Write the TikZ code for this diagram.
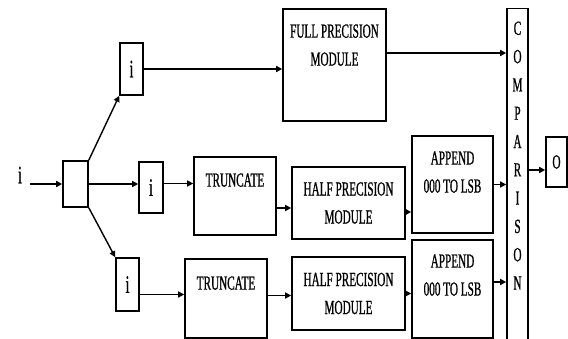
\documentclass[tikz,border=0pt]{standalone}
\usepackage{fontspec}
\setmainfont{Liberation Serif}[FakeStretch=0.56,FakeBold=0.8]
\usetikzlibrary{arrows.meta,positioning}
\tikzset{
  blk/.style={draw=black, line width=1.6pt, inner sep=0pt},
  lbl/.style={font=\fontsize{20}{28}\selectfont, align=center, inner sep=0pt, text=black},
  bit/.style={font=\fontsize{25}{26}\selectfont, inner sep=0pt, text=black},
  arr/.style={-{Triangle[length=6pt,width=6pt]}, line width=1.4pt},
}
\begin{document}
\begin{tikzpicture}[x=1pt,y=-1pt]
  \useasboundingbox (0,0) rectangle (568,339);
  % input and splitter
  \node[bit] (inp) at (20,175) {i};
  \node[blk, minimum width=25pt, minimum height=46pt] (split) at (75.5,184) {};
  \node[blk, bit, minimum width=23pt, minimum height=52pt] (itop) at (131.5,69) {i};
  \node[blk, bit, minimum width=24pt, minimum height=51pt] (imid) at (151,187.5) {i};
  \node[blk, bit, minimum width=23pt, minimum height=53pt] (ibot) at (127.5,284.5) {i};
  % modules
  \node[blk, minimum width=103pt, minimum height=112pt] (full) at (334.5,65) {};
  \node[lbl, below=16pt of full.north] (fullt) {FULL PRECISION\\MODULE};
  \node[blk, minimum width=82pt, minimum height=78pt] (trunc1) at (235,196) {};
  \node[lbl, below=17pt of trunc1.north] (trunc1t) {TRUNCATE};
  \node[blk, minimum width=82pt, minimum height=79pt] (trunc2) at (226,298.5) {};
  \node[lbl, below=18pt of trunc2.north] (trunc2t) {TRUNCATE};
  \node[blk, lbl, minimum width=113pt, minimum height=72pt] (half1) at (348.5,203) {HALF PRECISION\\MODULE};
  \node[blk, lbl, minimum width=113pt, minimum height=73pt] (half2) at (348.5,293.5) {HALF PRECISION\\MODULE};
  \node[blk, minimum width=81pt, minimum height=97pt] (app1) at (452.5,184.5) {};
  \node[lbl, below=16pt of app1.north] (app1t) {APPEND\\000 TO LSB};
  \node[blk, minimum width=81pt, minimum height=98pt] (app2) at (452.5,289) {};
  \node[lbl, below=15pt of app2.north] (app2t) {APPEND\\000 TO LSB};
  % comparison and output
  \node[blk, minimum width=21pt, minimum height=333pt] (comp) at (517.5,175) {};
  \foreach \c [count=\k] in {C,O,M,P,A,R,I,S,O,N}
    \node[lbl] (cmp\k) at (517.5,{28.3*\k}) {\c};
  \node[blk, lbl, minimum width=21pt, minimum height=50pt] (obox) at (556.5,162) {O};
  % connectors
  \draw[arr, shorten <=8pt] (inp.east |- split.west) -- (split.west);
  \draw[arr] (split.north east) -- (itop.south west);
  \draw[arr] (split.east) -- (split.east -| imid.west);
  \draw[arr] (split.south east) -- (ibot.north west);
  \draw[arr] (itop.east) -- (itop.east -| full.west);
  \draw[arr] ([yshift=4pt]imid.east) -- ([yshift=4pt]imid.east -| trunc1.west);
  \draw[arr] ([yshift=-10pt]ibot.east) -- ([yshift=-10pt]ibot.east -| trunc2.west);
  \draw[arr] ([yshift=-12pt]trunc1.east) -- ([yshift=-12pt]trunc1.east -| half1.west);
  \draw[arr] ([yshift=3pt]trunc2.east) -- ([yshift=3pt]trunc2.east -| half2.west);
  \draw[arr] ([yshift=-9pt]half1.east) -- ([yshift=-9pt]half1.east -| app1.west);
  \draw[arr] (half2.east) -- (half2.east -| app2.west);
  \draw[arr] ([yshift=12pt]full.east) -- ([yshift=12pt]full.east -| comp.west);
  \draw[arr] (app1.east) -- (app1.east -| comp.west);
  \draw[arr] ([yshift=7pt]app2.east) -- ([yshift=7pt]app2.east -| comp.west);
  \draw[arr] ([yshift=-8pt]obox.west -| comp.east) -- ([yshift=-8pt]obox.west);
\end{tikzpicture}
\end{document}
